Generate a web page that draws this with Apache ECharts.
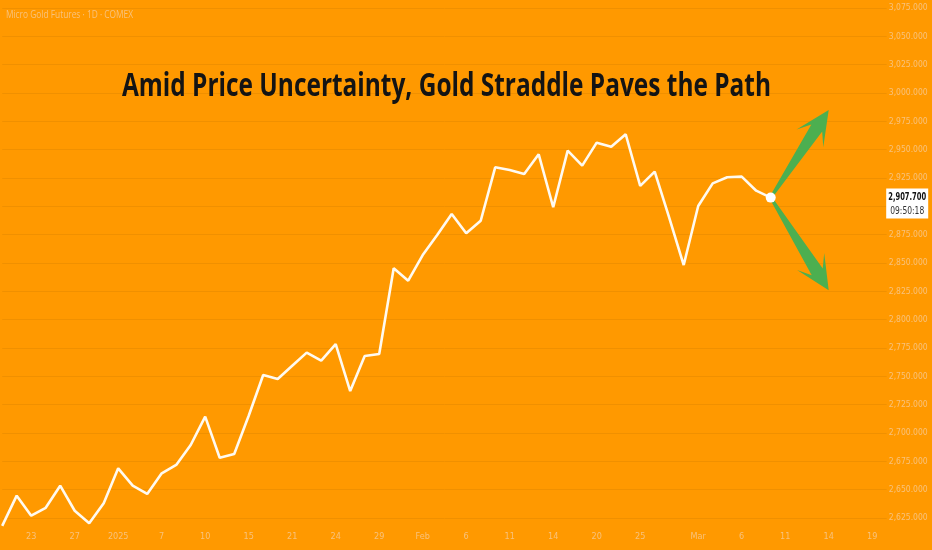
<!DOCTYPE html>
<html><head><meta charset="utf-8">
<script src="https://cdn.jsdelivr.net/npm/echarts@6/dist/echarts.min.js"></script>
<style>html,body{margin:0;padding:0;background:#ff9900;overflow:hidden}#c{width:932px;height:550px}</style>
</head><body><div id="c"></div>
<script>
// trading days shown on the axis (last ones are future, empty)
const dates = [
 '2024-12-19','2024-12-20','2024-12-23','2024-12-24','2024-12-26','2024-12-27','2024-12-30','2024-12-31',
 '2025-01-02','2025-01-03','2025-01-06','2025-01-07','2025-01-08','2025-01-09','2025-01-10','2025-01-13',
 '2025-01-14','2025-01-15','2025-01-16','2025-01-17','2025-01-21','2025-01-22','2025-01-23','2025-01-24',
 '2025-01-27','2025-01-28','2025-01-29','2025-01-30','2025-01-31','2025-02-03','2025-02-04','2025-02-05',
 '2025-02-06','2025-02-07','2025-02-10','2025-02-11','2025-02-12','2025-02-13','2025-02-14','2025-02-18',
 '2025-02-19','2025-02-20','2025-02-21','2025-02-24','2025-02-25','2025-02-26','2025-02-27','2025-02-28',
 '2025-03-03','2025-03-04','2025-03-05','2025-03-06','2025-03-07','2025-03-10','2025-03-11','2025-03-12',
 '2025-03-13','2025-03-14','2025-03-17','2025-03-18','2025-03-19','2025-03-20'
];
// daily closes (Micro Gold Futures, 1D)
const closes = [
 2618, 2644.7, 2627, 2634, 2653.5, 2631.4, 2620.3, 2638,
 2668.8, 2653.5, 2646.2, 2664.4, 2671.8, 2689.4, 2714.4, 2678.2,
 2681.5, 2715.2, 2751.2, 2747.6, 2759.3, 2770.9, 2763.8, 2778.5,
 2737, 2768, 2769.7, 2845.3, 2834.4, 2857, 2874.7, 2893.3,
 2876.2, 2887.3, 2934.4, 2932, 2928.5, 2945.9, 2899.2, 2949.1,
 2935.9, 2956.2, 2952.6, 2963.6, 2918, 2930.6, 2890, 2848.2,
 2900.3, 2920.3, 2925.6, 2926.2, 2913.8, 2907.7
];
// x-axis tick labels
const tickIndex = [2, 5, 8, 11, 14, 17, 20, 23, 26, 29, 32, 35, 38, 41, 44, 48, 51, 54, 57, 60];
const tickText  = ['23','27','2025','7','10','15','21','24','29','Feb','6','11','14','20','25','Mar','6','11','14','19'];
// straddle scenario targets (index, price)
const upTarget = [57, 2985];
const downTarget = [57, 2826];

const title = 'Amid Price Uncertainty, Gold Straddle Paves the Path';
const symbolText = 'Micro Gold Futures · 1D · COMEX';
const countdown = '09:50:18';

const lastIdx = closes.length - 1;
const lastVal = closes[lastIdx];
const faint = '#f8c27c';
const fmt = v => v.toLocaleString('en-US', {minimumFractionDigits: 3, maximumFractionDigits: 3});

// pick a condensed font if one is installed
const mctx = document.createElement('canvas').getContext('2d');
function has(name) {
  mctx.font = "20px '" + name + "', monospace"; const a = mctx.measureText('abcdefgh0123456789').width;
  mctx.font = "20px monospace"; const b = mctx.measureText('abcdefgh0123456789').width;
  return Math.abs(a - b) > 0.5;
}
const cond = ['Liberation Sans Narrow', 'DejaVu Sans Condensed', 'Roboto Condensed'].find(has);
const labelFamily = cond ? "'" + cond + "'" : "'Liberation Sans'";
const titleFamily = "'Open Sans','Noto Sans',sans-serif";
function fit(text, font, target) { mctx.font = font; return target / mctx.measureText(text).width; }

const chart = echarts.init(document.getElementById('c'), null, {renderer: 'canvas'});
chart.setOption({
  animation: false,
  backgroundColor: '#ff9900',
  grid: {left: 2.2, right: 45.3, top: 8, bottom: 32, containLabel: false, outerBoundsMode: 'none'},
  xAxis: {
    type: 'category', data: dates, boundaryGap: false,
    axisLine: {show: false}, axisTick: {show: false}, splitLine: {show: false},
    axisLabel: {
      color: faint, fontSize: 9, fontFamily: labelFamily, margin: 14, hideOverlap: false,
      interval: (i) => tickIndex.includes(i),
      formatter: (v, i) => { const k = tickIndex.indexOf(i); return k >= 0 ? tickText[k] : ''; }
    }
  },
  yAxis: {
    type: 'value', position: 'right', min: 2625, max: 3075, interval: 25,
    axisLine: {show: false}, axisTick: {show: false},
    splitLine: {show: true, lineStyle: {color: '#f09000', width: 1}},
    axisLabel: {color: faint, fontSize: 8.5, fontFamily: labelFamily, margin: 41, align: 'right', formatter: fmt}
  },
  series: [{
    type: 'line', data: closes, showSymbol: false, clip: false,
    lineStyle: {color: '#fffaf0', width: 2.6}, z: 3,
    markPoint: {
      symbol: 'circle', symbolSize: 10, silent: true,
      itemStyle: {color: '#ffffff'}, label: {show: false},
      data: [{coord: [lastIdx, lastVal]}]
    }
  }]
});

function px(idx, val) { return chart.convertToPixel({xAxisIndex: 0, yAxisIndex: 0}, [idx, val]); }

function arrow(p0, tip) {
  const dx = tip[0] - p0[0], dy = tip[1] - p0[1];
  const L = Math.hypot(dx, dy), d = [dx / L, dy / L], n = [-d[1], d[0]];
  const headLen = 30, headHalf = 16, shaftHalf = 6.5, sweep = 4;
  const at = (t, w) => [tip[0] - d[0] * t + n[0] * w, tip[1] - d[1] * t + n[1] * w];
  const start = (w) => [p0[0] + n[0] * w + d[0] * 3, p0[1] + n[1] * w + d[1] * 3];
  return [start(1.5), at(headLen * 0.72, shaftHalf), at(headLen + sweep, headHalf), tip,
          at(headLen + sweep, -headHalf), at(headLen * 0.72, -shaftHalf), start(-1.5)];
}

const p0 = px(lastIdx, lastVal);
const pu = px(upTarget[0], upTarget[1]);
const pd = px(downTarget[0], downTarget[1]);
const gridRight = px(dates.length - 1, lastVal)[0];

const titleFont = "bold 32px " + titleFamily;
const symFont = "10px " + titleFamily;
const priceFont = "bold 10px " + labelFamily;
const cdFont = "10px " + labelFamily;

chart.setOption({
  graphic: [
    {type: 'polygon', shape: {points: arrow(p0, pu)}, style: {fill: '#4caf50'}, z: 2},
    {type: 'polygon', shape: {points: arrow(p0, pd)}, style: {fill: '#4caf50'}, z: 2},
    {type: 'text', x: 6, y: 15, scaleX: fit(symbolText, symFont, 127),
     style: {text: symbolText, fill: faint, font: symFont, align: 'left', verticalAlign: 'middle'}},
    {type: 'text', x: 446.5, y: 87, scaleX: fit(title, titleFont, 649),
     style: {text: title, fill: '#141414', font: titleFont, align: 'center', verticalAlign: 'middle'}},
    {type: 'rect', shape: {x: gridRight - 0.5, y: p0[1] - 9, width: 42, height: 30}, style: {fill: '#ffffff'}, z: 10},
    {type: 'text', x: gridRight + 20.5, y: p0[1], scaleX: Math.min(1, fit(fmt(lastVal), priceFont, 38)),
     style: {text: fmt(lastVal), fill: '#111', font: priceFont, align: 'center', verticalAlign: 'middle'}, z: 11},
    {type: 'text', x: gridRight + 20.5, y: p0[1] + 14, scaleX: Math.min(1, fit(countdown, cdFont, 34)),
     style: {text: countdown, fill: '#333', font: cdFont, align: 'center', verticalAlign: 'middle'}, z: 11}
  ]
});
</script></body></html>
